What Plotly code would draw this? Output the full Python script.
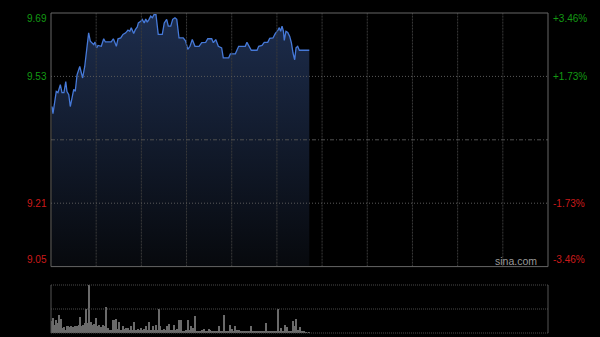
import plotly.graph_objects as go

# ---- data (minutes since 09:30 open, HK session = 330 min) ----
prev_close = 9.37
price_ticks = [9.69, 9.53, 9.21, 9.05]
pct_ticks = ["+3.46%", "+1.73%", "-1.73%", "-3.46%"]

price_minutes = [0.7, 1.3, 3.5, 4.6, 6.2, 7.3, 8.6, 9.8, 10.6, 11.8, 12.8, 13.9, 15.1, 16.1,
                 17.3, 19.1, 20.1, 21.0, 22.4, 23.7, 25.0, 26.1, 27.4, 28.4, 29.2, 30.3, 31.2,
                 33.4, 35.0, 36.1, 40.0, 41.4, 42.3, 43.4, 44.5, 46.3, 47.8, 49.6, 51.1, 52.3,
                 53.3, 54.9, 56.0, 57.3, 58.0, 59.6, 60.6, 61.9, 62.9, 63.9, 65.1, 66.2, 67.3,
                 68.4, 69.7, 71.2, 73.9, 75.2, 76.8, 77.9, 79.5, 80.8, 82.3, 83.5, 85.0, 87.8,
                 89.4, 90.8, 92.3, 93.8, 95.6, 98.3, 100.1, 102.7, 104.1, 106.7, 107.8, 109.4,
                 111.1, 113.3, 114.4, 118.0, 119.1, 122.4, 124.6, 129.0, 130.1, 131.3, 133.0,
                 136.8, 137.9, 140.1, 141.6, 143.9, 145.2, 147.4, 148.9, 150.7, 151.6, 152.5,
                 153.4, 154.3, 154.9, 156.0, 157.2, 158.5, 159.6, 160.7, 161.8, 162.7, 163.8,
                 164.9, 171.5]
prices = [9.454, 9.436, 9.492, 9.489, 9.509, 9.489, 9.489, 9.517, 9.492, 9.484, 9.454, 9.476,
          9.497, 9.492, 9.534, 9.555, 9.543, 9.526, 9.555, 9.593, 9.640, 9.619, 9.615, 9.610,
          9.617, 9.602, 9.608, 9.606, 9.625, 9.617, 9.617, 9.625, 9.617, 9.606, 9.625, 9.627,
          9.636, 9.640, 9.647, 9.644, 9.653, 9.638, 9.648, 9.655, 9.665, 9.669, 9.674, 9.665,
          9.675, 9.667, 9.674, 9.682, 9.678, 9.686, 9.686, 9.636, 9.636, 9.665, 9.674, 9.657,
          9.657, 9.674, 9.678, 9.674, 9.627, 9.627, 9.619, 9.598, 9.606, 9.623, 9.606, 9.606,
          9.615, 9.616, 9.625, 9.625, 9.615, 9.623, 9.606, 9.602, 9.577, 9.577, 9.587, 9.587,
          9.606, 9.606, 9.616, 9.606, 9.596, 9.596, 9.606, 9.608, 9.616, 9.616, 9.626, 9.627,
          9.638, 9.647, 9.653, 9.644, 9.657, 9.644, 9.621, 9.644, 9.641, 9.631, 9.615, 9.589,
          9.572, 9.602, 9.606, 9.596, 9.596]

vol_minutes = [0.0, 1.1, 2.4, 3.3, 4.2, 5.3, 6.2, 6.9, 7.7, 8.6, 9.5, 10.4, 11.3, 12.2, 13.1,
               13.9, 14.8, 15.7, 16.6, 17.5, 18.4, 19.3, 20.4, 21.5, 22.6, 23.5, 24.3, 25.0,
               25.4, 26.6, 27.7, 28.8, 29.9, 31.0, 32.1, 33.2, 34.3, 35.4, 36.5, 37.6, 38.7,
               39.8, 40.9, 42.0, 43.2, 44.3, 45.4, 46.5, 47.6, 48.7, 49.8, 50.9, 52.0, 53.1,
               54.2, 55.3, 56.4, 57.6, 58.7, 59.8, 60.9, 62.0, 63.1, 64.2, 65.3, 66.4, 67.5,
               68.6, 69.7, 70.8, 71.5, 72.6, 73.7, 74.8, 75.9, 77.0, 78.2, 79.2, 80.3, 81.5,
               82.5, 83.7, 85.0, 86.1, 87.4, 88.8, 89.9, 90.8, 92.1, 93.2, 94.1, 95.0, 95.8,
               96.9, 98.0, 99.2, 100.3, 101.4, 102.5, 103.6, 104.7, 105.8, 106.9, 108.0, 109.1,
               110.2, 111.3, 112.4, 113.5, 114.7, 115.7, 116.9, 118.0, 119.1, 120.2, 121.3,
               122.4, 123.5, 124.6, 125.7, 126.8, 128.0, 129.0, 130.1, 131.3, 132.6, 133.7,
               134.8, 135.9, 137.0, 138.1, 139.2, 140.3, 141.4, 142.9, 144.1, 145.2, 146.3,
               147.4, 148.5, 149.6, 150.5, 151.6, 152.5, 153.6, 154.7, 155.5, 156.5, 157.6,
               158.7, 159.6, 160.5, 161.6, 162.9, 164.0, 165.5, 166.7, 168.0, 169.4, 171.1]
volumes = [11.7, 15, 8.3, 12.7, 10, 17.7, 6.7, 14, 5, 6, 3.3, 7.3, 6.7, 6, 7.3, 3.3, 6, 6.7,
           6.7, 7.3, 8.3, 16, 6.7, 8.3, 10, 24, 10, 16, 48, 10.7, 8.3, 9.3, 15, 6.7, 8.3, 5.7,
           8.3, 6.7, 26, 5, 3.3, 3.3, 12.7, 12.7, 14, 4, 10.7, 2.7, 6.7, 4, 5, 5, 3.3, 7.3, 3.3,
           10.7, 3.3, 4, 3.3, 5, 3.3, 4, 7.3, 3.3, 10.7, 3.3, 7.3, 3.3, 8.3, 3.3, 24, 7.3, 3.3,
           4, 3.3, 6.7, 9.3, 3.3, 3.3, 8.3, 3.3, 4, 12.7, 13.3, 1.7, 1.7, 3.3, 12.7, 3.3, 7.3,
           5, 3.3, 16.7, 1.7, 2.3, 1.7, 3.3, 4, 1.7, 1.7, 4, 2.7, 1.7, 2.3, 1.7, 2.3, 7.3, 1.7,
           2.3, 17.7, 1.7, 1.7, 1.7, 8.3, 4, 2.3, 6.7, 3.3, 2.7, 1.7, 1.7, 2.3, 1.7, 1.7, 1.7,
           6.7, 2.3, 1.7, 1.7, 1.7, 2.3, 1.7, 1.7, 2.3, 10, 1.7, 1.7, 2.3, 1.7, 1.7, 1.7, 24,
           1.7, 5, 1.7, 1.7, 8.3, 6, 2.3, 1.7, 2.3, 11.7, 7.3, 14, 3.3, 6, 1.7, 1.7, 1, 1]

grid_minutes = [30, 60, 90, 120, 150, 180, 210, 240, 270, 300]
session_len = 330

# ---- figure ----
main_bottom = 0.2075
vol_top = 0.15

fig = go.Figure()
fig.add_trace(go.Scatter(
    x=price_minutes, y=prices, mode="lines",
    line=dict(color="#4679d8", width=1.3),
    fill="tozeroy",
    fillgradient=dict(type="vertical", start=price_ticks[-1], stop=price_ticks[0],
                      colorscale=[[0, "#07090d"], [1, "#1d2d4d"]]),
    xaxis="x", yaxis="y", hoverinfo="skip"))
fig.add_trace(go.Bar(
    x=vol_minutes, y=volumes, width=0.55,
    marker=dict(color="#6a6a6a", line=dict(width=0)),
    xaxis="x2", yaxis="y2", hoverinfo="skip"))

shapes = []
for m in grid_minutes:
    shapes.append(dict(type="line", xref="x", yref="y", x0=m, x1=m,
                       y0=price_ticks[-1], y1=price_ticks[0],
                       line=dict(color="#3a3a3a", width=1, dash="2px,1px")))
for p in (price_ticks[1], price_ticks[2]):
    shapes.append(dict(type="line", xref="paper", yref="y", x0=0, x1=1, y0=p, y1=p,
                       line=dict(color="#5a5a5a", width=1, dash="1px,2px")))
shapes.append(dict(type="line", xref="paper", yref="y", x0=0, x1=1, y0=prev_close, y1=prev_close,
                   line=dict(color="#505050", width=1, dash="4px,2px,1px,2px")))
shapes.append(dict(type="rect", xref="paper", yref="paper", x0=0, x1=1, y0=main_bottom, y1=1,
                   line=dict(color="#666666", width=1)))
# volume panel frame
for yy in (0, vol_top / 2, vol_top):
    shapes.append(dict(type="line", xref="paper", yref="paper", x0=0, x1=1, y0=yy, y1=yy,
                       line=dict(color="#4a4a4a", width=1, dash="1px,1px")))
for xx in (0, 1):
    shapes.append(dict(type="line", xref="paper", yref="paper", x0=xx, x1=xx, y0=0, y1=vol_top,
                       line=dict(color="#555555", width=1)))

annotations = []
font_family = "Liberation Sans, Arial, sans-serif"
green = "#139a13"
red = "#cc1a1a"
for i, (p, t) in enumerate(zip(price_ticks, pct_ticks)):
    col = green if p > prev_close else red
    if i == 0:
        ya, ys = "top", 2
    elif i == len(price_ticks) - 1:
        ya, ys = "bottom", 0
    else:
        ya, ys = "middle", 0
    annotations.append(dict(xref="paper", yref="y", x=0, y=p, text=f"{p:.2f}",
                            xanchor="right", yanchor=ya, yshift=ys, xshift=-2, showarrow=False,
                            font=dict(family=font_family, size=10, color=col)))
    annotations.append(dict(xref="paper", yref="y", x=1, y=p, text=t,
                            xanchor="left", yanchor=ya, yshift=ys, xshift=3, showarrow=False,
                            font=dict(family=font_family, size=10, color=col)))
annotations.append(dict(xref="paper", yref="paper", x=1, y=main_bottom, text="sina.com",
                        xanchor="right", yanchor="bottom", xshift=-9, yshift=-2, showarrow=False,
                        font=dict(family=font_family, size=10.5, color="#9a9a9a")))

fig.update_layout(
    width=600, height=337,
    margin=dict(l=51, r=52, t=13, b=4),
    paper_bgcolor="#000000", plot_bgcolor="#000000",
    showlegend=False,
    xaxis=dict(domain=[0, 1], range=[0, session_len], visible=False, fixedrange=True),
    yaxis=dict(domain=[main_bottom, 1], range=[price_ticks[-1], price_ticks[0]],
               visible=False, fixedrange=True),
    xaxis2=dict(domain=[0, 1], range=[0, session_len], visible=False, anchor="y2"),
    yaxis2=dict(domain=[0, vol_top], range=[0, max(volumes)], visible=False, anchor="x2"),
    bargap=0,
    shapes=shapes,
    annotations=annotations,
)

fig.write_html("out.html", config={"displayModeBar": False})
